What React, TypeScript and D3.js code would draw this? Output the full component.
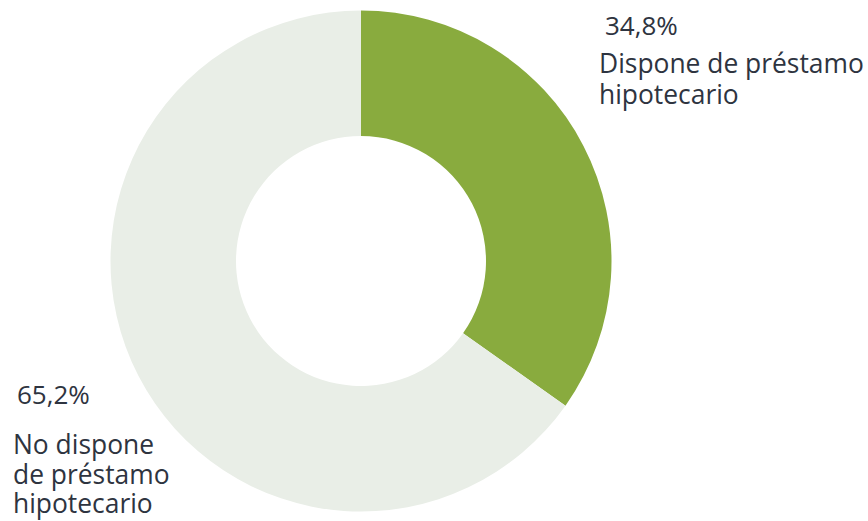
import React from "react";
import * as d3 from "d3";

const categories = ["Dispone de préstamo hipotecario", "No dispone de préstamo hipotecario"];
const values = [34.8, 65.2];
const valueLabels = ["34,8%", "65,2%"];
const labelLines = [["Dispone de préstamo", "hipotecario"], ["No dispone", "de préstamo", "hipotecario"]];
const colors = ["#89ab3e", "#e9eee7"];

const W = 868;
const H = 521;
const cx = 361;
const cy = 261;
const rOuter = 250.5;
const rInner = 125;

const FONT = "'Segoe UI', 'Open Sans', sans-serif";
const TEXT = "#2e3440";

export default function App() {
  const pie = d3.pie<number>().sort(null).value((d) => d)(values);
  const arc = d3.arc<d3.PieArcDatum<number>>().innerRadius(rInner).outerRadius(rOuter);

  const labelPos = [
    { x: 599, pctX: 605, pctY: 35, y0: 72.5, lh: 31 },
    { x: 13, pctX: 17, pctY: 404, y0: 454, lh: 29.5 },
  ];

  return (
    <svg width={W} height={H} style={{ position: "absolute", left: 0, top: 0, background: "#fff" }}>
      <g transform={`translate(${cx},${cy})`}>
        {pie.map((p, i) => (
          <path key={categories[i]} d={arc(p) || ""} fill={colors[i]} />
        ))}
      </g>
      {labelPos.map((lp, i) => (
        <g key={i} fontFamily={FONT} fill={TEXT}>
          <text x={lp.pctX} y={lp.pctY} fontSize={26}>
            {valueLabels[i]}
          </text>
          {labelLines[i].map((ln, j) => (
            <text key={j} x={lp.x} y={lp.y0 + j * lp.lh} fontSize={26.4}>
              {ln}
            </text>
          ))}
        </g>
      ))}
    </svg>
  );
}
